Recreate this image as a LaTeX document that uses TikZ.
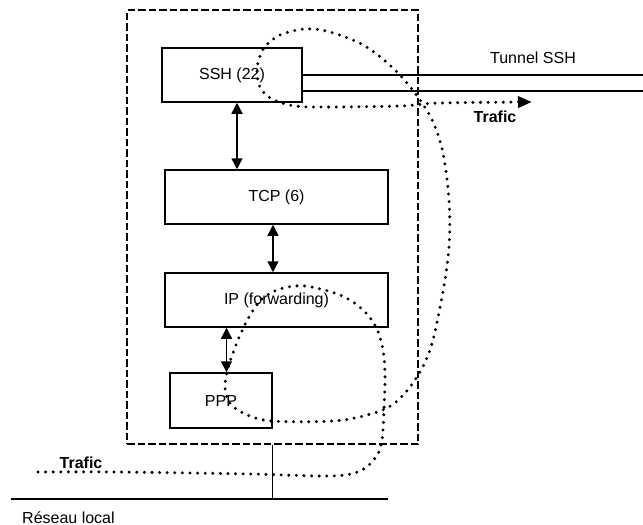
\documentclass[tikz,border=0pt]{standalone}
\usepackage{fontspec}
\setmainfont{Liberation Sans}
\usetikzlibrary{arrows.meta}
\tikzset{
  layer/.style={draw, line width=1.5pt, minimum height=54pt, inner sep=0pt},
  biarrow/.style={line width=1.5pt,
    {Triangle[length=11pt,width=11pt]}-{Triangle[length=11pt,width=11pt]}},
  wire/.style={line width=1.5pt},
  hostframe/.style={draw, line width=2.8pt, dash pattern=on 7.5pt off 3pt},
  flow/.style={line width=3.3pt, line cap=round, dash pattern=on 0pt off 7.6pt},
  txt/.style={inner sep=0pt},
}
\begin{document}
\begin{tikzpicture}[x=1pt, y=-1pt, font=\fontsize{16}{19}\selectfont]
\useasboundingbox (0,0) rectangle (643,525);

% host machine
\node[hostframe, minimum width=291pt, minimum height=434pt] (host) at (272.5,227) {};

% protocol stack
\node[layer, minimum width=140pt] (ssh) at (232,75) {SSH (22)};
\node[layer, minimum width=223pt] (tcp) at (276.5,197) {TCP (6)};
\node[layer, minimum width=223pt] (ip)  at (276.5,300) {IP (forwarding)};
\node[layer, minimum width=102pt, minimum height=55pt] (ppp) at (221,400.5) {PPP};

\draw[biarrow] ([xshift=5pt]ssh.south) -- ([xshift=5pt]ssh.south |- tcp.north);
\draw[biarrow] ([xshift=-3.5pt]tcp.south) -- ([xshift=-3.5pt]tcp.south |- ip.north);
\draw[biarrow] ([xshift=5.5pt]ppp.north) -- ([xshift=5.5pt]ppp.north |- ip.south);

% SSH tunnel
\coordinate (tun-end) at (643,75);
\coordinate (tun-lo) at ([yshift=-16pt]ssh.east);
\draw[wire] (ssh.east) -- (ssh.east -| tun-end);
\draw[wire] (tun-lo) -- (tun-lo -| tun-end);
\node[txt, anchor=base] (tun-txt) at (533,63) {Tunnel SSH};

% local network
\coordinate (lan-w) at (11,499);
\coordinate (lan-e) at (388,499);
\draw[wire] (lan-w) -- (lan-e);
\draw[wire] (host.south) -- (host.south |- lan-w);
\node[txt, anchor=base west] (lan-txt) at (22,523) {Réseau local};

% traffic path
\node[txt, anchor=base] (trafic-in) at (81,468) {\textbf{Trafic}};
\node[txt, anchor=base] (trafic-out) at (495,122) {\textbf{Trafic}};
\draw[flow, -{Triangle[length=14pt,width=11pt]}] plot[smooth, tension=0.55] coordinates {
  (38,472) (120,472) (250,474) (330,476) (360,471) (376,457) (382,440)
  (384,410) (385,375) (383,350) (376,327) (362,309) (340,295) (305,286)
  (280,289) (262,299) (249,317) (238,340) (229,365) (225,385) (229,402)
  (245,414) (272,421) (333,421) (367,415) (392,405) (413,383) (430,350)
  (442,297) (449,247) (449,200) (443,153) (433,122) (418,97) (395,70)
  (365,46) (330,32) (305,29) (280,35) (264,48) (257,68) (260,87)
  (272,99) (295,106) (330,107) (400,106) (440,103) (532,102)};
\end{tikzpicture}
\end{document}
